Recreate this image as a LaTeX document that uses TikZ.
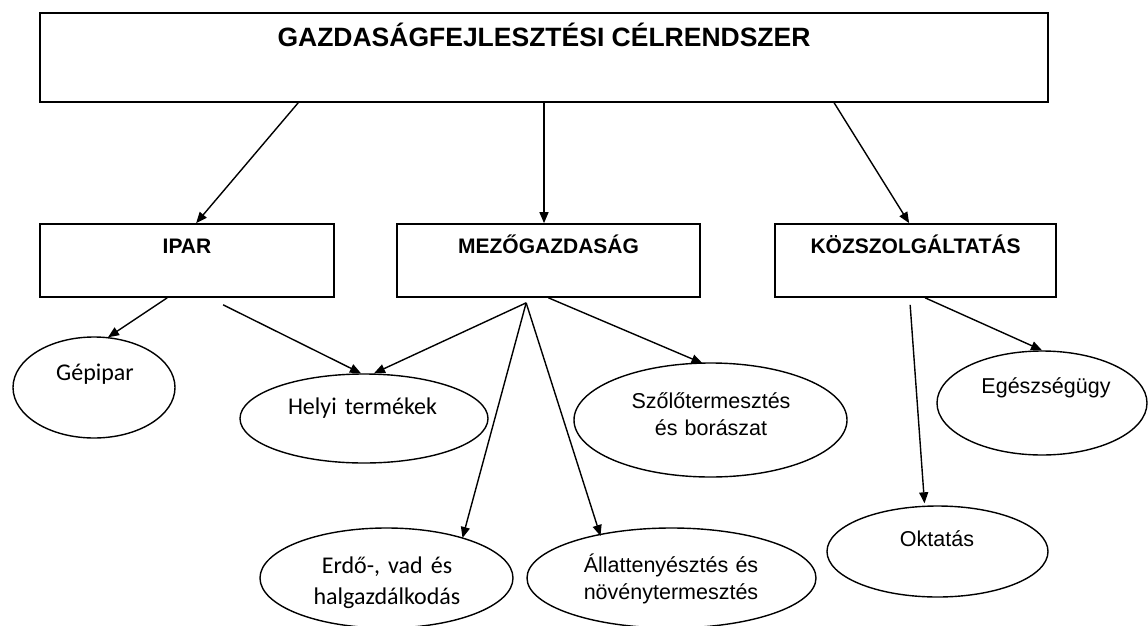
\documentclass[tikz,border=0pt]{standalone}
\usepackage{fontspec}
\setmainfont{Liberation Sans}
\newfontfamily\calib{Carlito}
\usetikzlibrary{arrows.meta,shapes.geometric,calc}
\begin{document}
\begin{tikzpicture}[x=1pt,y=-1pt,
  box/.style={draw=black, line width=1.7pt, rectangle, inner sep=0pt},
  hd/.style={font=\bfseries\fontsize{21}{25}\selectfont, text height=15pt, text depth=30pt},
  ell/.style={draw=black, line width=1.4pt, ellipse, inner sep=0pt},
  ar/.style={line width=1.4pt, -{Triangle[length=11pt,width=9pt]}},
  ctxt/.style={font=\calib\fontsize{24}{31}\selectfont, inner sep=0pt, anchor=base, text width=220pt, align=center},
  atxt/.style={font=\fontsize{21.5}{27}\selectfont, inner sep=0pt, anchor=base, text width=220pt, align=center}
]
\path[fill=white] (0,0) rectangle (1148,626);
\useasboundingbox (0,0) rectangle (1148,626);

% boxes
\node[box, minimum width=1008pt, minimum height=89pt, text height=19pt, text depth=40pt,
      font=\bfseries\fontsize{26.5}{30}\selectfont] (top) at (544,57.5) {GAZDASÁGFEJLESZTÉSI CÉLRENDSZER};
\node[box, hd, minimum width=294pt, minimum height=73pt] (ipar) at (187,260.5) {IPAR};
\node[box, hd, minimum width=303pt, minimum height=73pt] (mezo) at (548.5,260.5) {MEZŐGAZDASÁG};
\node[box, hd, minimum width=281pt, minimum height=73pt] (koz) at (915.5,260.5) {KÖZSZOLGÁLTATÁS};

% ellipses
\node[ell, minimum width=162pt, minimum height=101pt] (gep) at (94,387.5) {};
\node[ell, minimum width=248pt, minimum height=89pt] (helyi) at (364,418.5) {};
\node[ell, minimum width=273pt, minimum height=114pt] (szolo) at (710.5,420) {};
\node[ell, minimum width=253pt, minimum height=100pt] (erdo) at (386.5,578) {};
\node[ell, minimum width=289pt, minimum height=100pt] (allat) at (671.5,578) {};
\node[ell, minimum width=210pt, minimum height=104pt] (egesz) at (1042,403) {};
\node[ell, minimum width=221pt, minimum height=91pt] (okt) at (937.5,551.5) {};

% texts
\node[ctxt] (gept) at (95,380) {Gépipar};
\node[ctxt] (helyit) at (362.5,414.5) {Helyi termékek};
\node[atxt] (szolot) at (711,408) {Szőlőtermesztés\\és borászat};
\node[ctxt] (erdot) at (387,573) {Erdő-, vad és\\halgazdálkodás};
\node[atxt] (allatt) at (671,572) {Állattenyésztés és\\növénytermesztés};
\node[atxt] (egeszt) at (1046,393) {Egészségügy};
\node[atxt] (oktt) at (937,546) {Oktatás};

% connectors
\draw[ar] ($(top.south west)+(259,0)$) -- ($(ipar.north west)+(157,0)$);
\draw[ar] (top.south) -- (top.south |- mezo.north);
\draw[ar] ($(top.south west)+(795,0)$) -- ($(koz.north west)+(135,0)$);

\draw[ar] ($(ipar.south west)+(128,0)$) -- ($(gep.north)+(14,1)$);
\draw[ar] ($(ipar.south west)+(184,7)$) -- ($(helyi.north)+(-3,0)$);

\coordinate (mfan) at ($(mezo.south west)+(130,5)$);
\draw[ar] (mfan) -- ($(helyi.north)+(10,0)$);
\draw[ar] (mfan) -- ($(erdo.center)+(76,-40)$);
\draw[ar] (mfan) -- ($(allat.center)+(-71,-42)$);
\draw[ar] (mezo.south) -- ($(szolo.north)+(-8,1)$);

\draw[ar] ($(koz.south west)+(151,0)$) -- (egesz.north);
\draw[ar] ($(koz.south west)+(136,7)$) -- ($(okt.north)+(-13,-2)$);
\end{tikzpicture}
\end{document}
